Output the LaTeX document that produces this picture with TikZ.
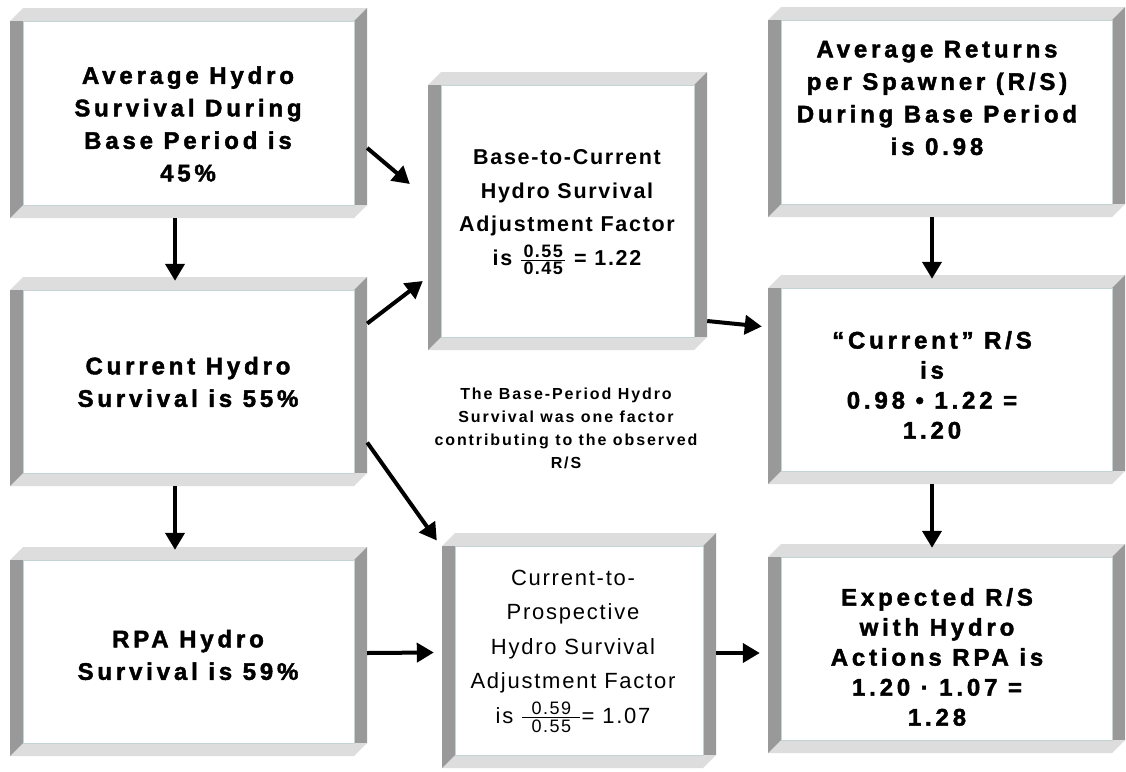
\documentclass[tikz,border=0pt]{standalone}
\usepackage{amsmath}
\usepackage{fontspec}
\usetikzlibrary{arrows.meta,calc}
\setmainfont{Liberation Sans}
\newfontfamily\bxfont[LetterSpace=16,FakeBold=1.8]{Liberation Sans}
\newfontfamily\mdfont[LetterSpace=8]{Liberation Sans}
\newfontfamily\ntfont[LetterSpace=12]{Liberation Sans}
\newfontfamily\mefont[LetterSpace=8]{Liberation Sans}
\definecolor{facelt}{HTML}{DDDDDD}
\definecolor{facedk}{HTML}{999999}
\definecolor{rimcol}{HTML}{C4D4D4}
\newcommand\bevelbox[5]{%
  \fill[facelt] (#2,#3+13) -- (#2+13,#3) -- (#4,#3) -- (#4-13,#3+13) -- cycle;
  \fill[facedk] (#4-13,#3+13) -- (#4,#3) -- (#4,#5-13) -- (#4-13,#5-13) -- cycle;
  \fill[facelt] (#2,#5) -- (#2+13,#5-13) -- (#4,#5-13) -- (#4-13,#5) -- cycle;
  \fill[facedk] (#2,#3+13) -- (#2+13,#3+13) -- (#2+13,#5-13) -- (#2,#5) -- cycle;
  \draw[rimcol,line width=0.8pt,fill=white] (#2+13,#3+13) rectangle (#4-13,#5-13);
  \node[inner sep=0pt,minimum width={#4-#2},minimum height={#5-#3}] (#1) at ({(#2+#4)/2},{(#3+#5)/2}) {};
}
\newcommand\fracbox[3]{$\genfrac{}{}{1pt}{}{\hbox to #1pt{\hss\fontsize{18}{18}\selectfont #2\hss}}{\hbox to #1pt{\hss\fontsize{18}{18}\selectfont #3\hss}}$}
\tikzset{
  bigtxt/.style={align=center,inner sep=0pt,font=\bxfont\bfseries\fontsize{24}{32.5}\selectfont},
  midtxt/.style={align=center,inner sep=0pt,font=\mdfont\bfseries\fontsize{21.5}{33.5}\selectfont},
  etxt/.style={align=center,inner sep=0pt,font=\mefont\fontsize{22}{34.5}\selectfont},
  notetxt/.style={align=center,inner sep=0pt,font=\ntfont\bfseries\fontsize{16}{23}\selectfont},
  arr/.style={line width=4pt,-{Triangle[length=17pt,width=19pt]}}
}
\begin{document}
\begin{tikzpicture}[x=1pt,y=-1pt]
\fill[white] (0,0) rectangle (1126,771);
\useasboundingbox (0,0) rectangle (1126,771);
% boxes
\bevelbox{A}{10}{8}{367}{218}
\bevelbox{B}{10}{277}{367}{486}
\bevelbox{C}{10}{547}{367}{756}
\bevelbox{D}{428}{72}{707}{350}
\bevelbox{E}{442}{533}{716}{768}
\bevelbox{F}{768}{7}{1125}{217}
\bevelbox{G}{768}{275}{1125}{484}
\bevelbox{H}{768}{544}{1125}{753}
% texts
\node[bigtxt] (At) at (188,124) {Average Hydro\\Survival During\\Base Period is\\45\%};
\node[bigtxt] (Bt) at (188,382) {Current Hydro\\Survival is 55\%};
\node[bigtxt] (Ct) at (188,655) {RPA Hydro\\Survival is 59\%};
\node[midtxt] (Dt) at (567,212) {Base-to-Current\\Hydro Survival\\Adjustment Factor\\is \fracbox{44}{0.55}{0.45} = 1.22};
\node[notetxt] (Nt) at (566,428) {The Base-Period Hydro\\Survival was one factor\\contributing to the observed\\R/S};
\node[etxt] (Et) at (573,651) {Current-to-\\Prospective\\Hydro Survival\\Adjustment Factor\\is \fracbox{58}{0.59}{0.55}= 1.07};
\node[bigtxt] (Ft) at (937,98) {Average Returns\\per Spawner (R/S)\\During Base Period\\is 0.98};
\node[bigtxt,font=\bxfont\bfseries\fontsize{24}{30}\selectfont] (Gt) at (932,385) {“Current” R/S\\is\\0.98 • 1.22 =\\1.20};
\node[bigtxt,font=\bxfont\bfseries\fontsize{24}{30}\selectfont] (Ht) at (937,657) {Expected R/S\\with Hydro\\Actions RPA is\\1.20 · 1.07 =\\1.28};
% arrows
\draw[arr] ([xshift=-13.5pt]A.south) -- ([xshift=-13.5pt,yshift=-4pt]B.north);
\draw[arr] ([xshift=-13.5pt]B.south) -- ([xshift=-13.5pt,yshift=-3pt]C.north);
\draw[arr] ([yshift=-35pt]A.east) -- ([xshift=-18pt,yshift=27pt]D.west);
\draw[arr] ([yshift=58pt]B.east) -- ([xshift=-5pt,yshift=-70pt]D.west);
\draw[arr] ([yshift=-61pt]B.east) -- ([xshift=-5pt,yshift=110pt]E.west);
\draw[arr] ([yshift=-1.5pt]C.east) -- ([xshift=-8pt,yshift=-2pt]E.west);
\draw[arr] ([yshift=-110pt]D.east) -- ([xshift=-6pt,yshift=53pt]G.west);
\draw[arr] ([yshift=-2.5pt]E.east) -- ([xshift=-8pt,yshift=-4.5pt]H.west);
\draw[arr] ([xshift=-14.5pt]F.south) -- ([xshift=-14.5pt,yshift=-4pt]G.north);
\draw[arr] ([xshift=-14.5pt]G.south) -- ([xshift=-14.5pt,yshift=-4pt]H.north);
\end{tikzpicture}
\end{document}
